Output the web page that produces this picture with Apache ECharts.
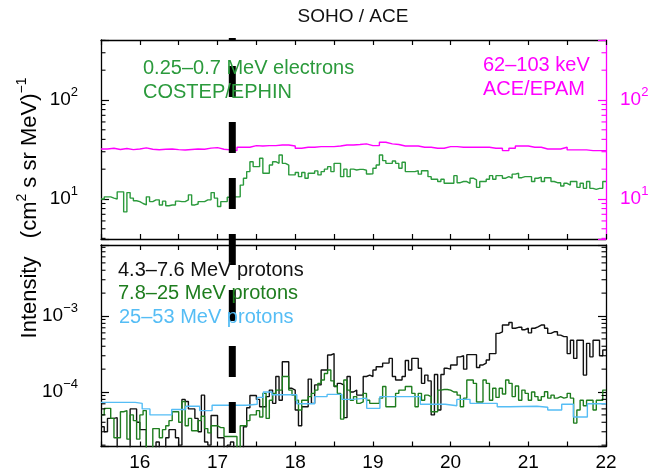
<!DOCTYPE html>
<html>
<head>
<meta charset="utf-8">
<script src="https://cdn.jsdelivr.net/npm/echarts@6/dist/echarts.min.js"></script>
<style>
  html, body { margin: 0; padding: 0; background: #fff; }
  #chart { width: 648px; height: 472px; }
</style>
</head>
<body>
<div id="chart"></div>
<script>
// Time axis (day of month)
const dayMin = 15.5;
const dayMax = 22;
const hourStep = 1 / 24;
const twoHourStep = 1 / 12;
const eventDay = 17.19;

// 0.25-0.7 MeV electrons, COSTEP/EPHIN, hourly, (cm^2 s sr MeV)^-1
const elecFlux = [
  10.0, 10.5, 10.5, 10.2, 10.0, 11.8, 11.8, 7.4, 11.6, 10.2,
  9.6, 9.4, 9.0, 8.7, 10.5, 9.4, 9.8, 9.8, 8.7, 9.5,
  8.55, 8.7, 8.7, 9.5, 9.4, 9.4, 9.8, 11.0, 8.7, 8.9,
  9.4, 9.4, 9.8, 9.8, 11.6, 10.2, 8.4, 9.4, 9.4, 10.4,
  10.0, 10.5, 10.5, 13.8, 16.2, 18.9, 23.8, 21.2, 21.2, 25.8,
  18.2, 18.2, 22.0, 23.8, 22.9, 27.8, 22.9, 22.0, 17.5, 17.5,
  18.5, 16.8, 18.5, 16.2, 18.2, 18.2, 19.2, 17.5, 18.9, 20.0,
  21.2, 18.9, 22.9, 22.9, 16.8, 20.0, 16.8, 20.0, 19.6, 19.9,
  19.9, 19.5, 17.9, 18.0, 20.4, 22.0, 27.8, 24.4, 22.9, 22.9,
  24.2, 22.9, 20.4, 23.5, 18.9, 18.9, 18.9, 19.3, 17.8, 19.3,
  19.3, 16.8, 15.8, 15.8, 15.0, 15.8, 14.4, 14.4, 14.4, 17.2,
  14.6, 15.0, 15.0, 14.4, 16.2, 15.6, 13.1, 15.0, 15.0, 15.8,
  17.2, 15.8, 17.2, 17.2, 16.2, 16.8, 16.2, 17.8, 18.2, 16.4,
  16.8, 16.8, 16.8, 15.0, 16.2, 16.6, 15.0, 16.4, 16.4, 15.0,
  14.6, 14.6, 13.5, 14.4, 13.8, 15.0, 15.0, 13.1, 14.4, 12.8,
  15.0, 12.8, 12.5, 12.8, 12.8, 15.0
];

// 62-103 keV, ACE/EPAM, 2-hour averages
const epamFlux = [
  32.0, 32.5, 31.6, 32.3, 31.5, 32.0, 32.8, 31.8, 31.4, 31.8,
  32.0, 31.5, 31.2, 31.6, 32.0, 31.8, 32.6, 33.0, 31.8, 31.3,
  30.8, 33.3, 33.3, 34.6, 34.3, 34.6, 34.6, 35.1, 35.1, 34.3,
  32.5, 33.3, 33.3, 33.8, 33.8, 33.8, 34.3, 35.1, 35.1,
  35.5, 36.0, 34.6, 34.6, 37.4, 36.0, 35.5, 34.3, 34.3, 34.3,
  33.3, 33.3, 32.5, 32.5, 33.8, 33.8, 33.3, 33.3, 33.3, 33.3,
  33.3, 32.5, 32.5, 30.8, 32.5, 34.3, 34.3, 33.3, 33.3, 32.0,
  32.0, 32.0, 33.3, 31.3, 31.3, 31.3, 30.8, 30.8, 30.8
];

// 4.3-7.6 MeV protons, hourly
const protonLowFlux = [
  3.5e-5, 3.0e-5, 4.5e-5, 4.5e-5, 4.6e-5, 1.5e-5, 1.4e-5, 1.6e-5, 1.8e-5, 6.0e-5,
  6.0e-5, 4.0e-5, 3.2e-5, 3.2e-5, 1.6e-5, 1.5e-5, 1.8e-5, 2.2e-5, 1.5e-5, 1.6e-5,
  2.5e-5, 3.2e-5, 3.2e-5, 2.5e-5, 2.0e-5, 8.0e-5, 7.5e-5, 6.0e-5, 6.0e-5, 4.5e-5,
  3.0e-5, 9.1e-5, 2.2e-5, 2.0e-5, 4.9e-5, 4.9e-5, 2.5e-5, 2.5e-5, 1.8e-5, 2.0e-5,
  2.2e-5, 1.6e-5, 1.5e-5, 1.8e-5, 3.5e-5, 6.2e-5, 9.0e-5, 9.0e-5, 8.0e-5, 6.4e-5,
  6.4e-5, 8.7e-5, 1.06e-4, 7.1e-5, 1.6e-4, 7.8e-5, 2.5e-4, 2.5e-4, 1.12e-4, 1.06e-4,
  5.8e-5, 3.6e-5, 6.4e-5, 6.4e-5, 1.48e-4, 7.1e-5, 1.24e-4, 1.24e-4, 1.95e-4, 1.95e-4,
  3.07e-4, 3.2e-4, 1.18e-4, 1.3e-4, 1.24e-4, 4.6e-5, 1.6e-4, 1.0e-4, 1.06e-4, 9.1e-5,
  9.1e-5, 1.6e-4, 1.67e-4, 1.6e-4, 1.95e-4, 2.15e-4, 2.15e-4, 2.4e-4, 2.4e-4, 2.77e-4,
  1.6e-4, 1.44e-4, 1.44e-4, 1.6e-4, 2.6e-4, 1.95e-4, 2.77e-4, 2.77e-4, 2.05e-4, 1.3e-4,
  1.67e-4, 1.4e-4, 5.0e-5, 1.7e-4, 5.8e-5, 1.7e-4, 2.05e-4, 2.0e-4, 2.27e-4, 2.27e-4,
  2.9e-4, 3.0e-4, 2.0e-4, 3.1e-4, 3.1e-4, 3.1e-4, 2.1e-4, 2.27e-4, 2.4e-4, 2.64e-4,
  3.2e-4, 3.2e-4, 5.9e-4, 6.2e-4, 7.6e-4, 7.6e-4, 8.2e-4, 6.9e-4, 7.1e-4, 7.1e-4,
  6.6e-4, 6.9e-4, 6.0e-4, 6.9e-4, 7.2e-4, 7.6e-4, 7.6e-4, 6.9e-4, 5.9e-4, 6.2e-4,
  6.2e-4, 5.6e-4, 5.35e-4, 5.35e-4, 3.2e-4, 4.8e-4, 2.77e-4, 4.8e-4, 4.8e-4, 1.67e-4,
  4.37e-4, 2.9e-4, 4.8e-4, 4.8e-4, 3.0e-4, 3.57e-4
];

// 7.8-25 MeV protons, hourly
const protonMidFlux = [
  5.0e-5, 6.1e-5, 6.1e-5, 4.5e-5, 2.5e-5, 2.5e-5, 5.5e-5, 5.7e-5, 2.4e-5, 5.0e-5,
  4.2e-5, 2.4e-5, 5.0e-5, 5.7e-5, 1.5e-5, 1.6e-5, 3.3e-5, 3.3e-5, 2.5e-5, 3.2e-5,
  3.6e-5, 4.2e-5, 5.5e-5, 5.5e-5, 4.0e-5, 7.5e-5, 3.6e-5, 4.5e-5, 3.1e-5, 3.1e-5,
  4.2e-5, 4.8e-5, 3.3e-5, 2.9e-5, 3.6e-5, 3.6e-5, 3.4e-5, 3.4e-5, 2.6e-5, 2.6e-5,
  2.6e-5, 2.6e-5, 1.8e-5, 3.6e-5, 3.6e-5, 4.2e-5, 5.0e-5, 5.0e-5, 5.7e-5, 4.7e-5,
  9.6e-5, 4.5e-5, 7.8e-5, 9.6e-5, 1.06e-4, 1.06e-4, 1.6e-4, 1.6e-4, 1.06e-4, 9.1e-5,
  7.8e-5, 5.8e-5, 7.8e-5, 7.8e-5, 8.7e-5, 9.6e-5, 1.06e-4, 1.3e-4, 1.44e-4, 1.75e-4,
  1.95e-4, 1.4e-4, 1.2e-4, 9.6e-5, 4.4e-5, 1.44e-4, 1.06e-4, 7.8e-5, 8.7e-5, 7.1e-5,
  7.4e-5, 9.6e-5, 7.8e-5, 7.1e-5, 7.1e-5, 7.1e-5, 8.3e-5, 1.18e-4, 6.4e-5, 6.4e-5,
  6.4e-5, 9.6e-5, 1.06e-4, 1.06e-4, 1.18e-4, 1.18e-4, 9.6e-5, 6.4e-5, 9.6e-5, 7.8e-5,
  9.1e-5, 8.7e-5, 5.5e-5, 5.5e-5, 1.06e-4, 1.08e-4, 1.08e-4, 1.06e-4, 1.0e-4, 1.0e-4,
  9.1e-5, 6.4e-5, 8.3e-5, 1.44e-4, 1.44e-4, 1.3e-4, 7.4e-5, 7.4e-5, 1.44e-4, 1.3e-4,
  7.8e-5, 1.12e-4, 8.5e-5, 1.12e-4, 9.4e-5, 1.44e-4, 1.3e-4, 8.7e-5, 1.2e-4, 7.8e-5,
  1.06e-4, 9.6e-5, 7.8e-5, 1.0e-4, 8.7e-5, 7.8e-5, 8.7e-5, 1.01e-4, 8.3e-5, 9.1e-5,
  8.3e-5, 8.7e-5, 8.3e-5, 8.5e-5, 9.6e-5, 8.3e-5, 3.9e-5, 5.8e-5, 7.8e-5, 6.6e-5,
  7.8e-5, 7.8e-5, 5.8e-5, 7.8e-5, 7.8e-5, 1.06e-4
];

// 25-53 MeV protons, coarse averaging intervals (start day, flux)
const protonHighDays = [
  15.5, 15.94, 16.03, 16.13, 16.41, 16.59, 16.77, 16.93, 17.38, 17.51,
  17.59, 17.70, 18.02, 18.25, 18.41, 18.60, 18.74, 18.92, 19.09, 19.61,
  19.93, 20.08, 20.25, 20.60, 20.76, 21.11, 21.25, 21.43, 21.58, 21.76
];
const protonHighFlux = [
  7.3e-5, 7.1e-5, 6.0e-5, 5.0e-5, 5.9e-5, 6.5e-5, 5.7e-5, 6.7e-5, 6.9e-5, 8.5e-5,
  1.0e-4, 9.2e-5, 7.0e-5, 8.7e-5, 9.3e-5, 8.0e-5, 8.3e-5, 6.1e-5, 8.7e-5, 6.9e-5,
  6.6e-5, 8.0e-5, 7.1e-5, 6.4e-5, 6.5e-5, 6.3e-5, 5.8e-5, 6.9e-5, 4.7e-5, 7.0e-5
];

// Axis ranges and log minor ticks
const topRange = [3.94, 403.6];
const bottomRange = [1.92e-5, 8.59e-3];
const topMinorTicks = [4, 5, 6, 7, 8, 9, 20, 30, 40, 50, 60, 70, 80, 90, 200, 300, 400];
const bottomMinorTicks = [
  2e-5, 3e-5, 4e-5, 5e-5, 6e-5, 7e-5, 8e-5, 9e-5,
  2e-4, 3e-4, 4e-4, 5e-4, 6e-4, 7e-4, 8e-4, 9e-4,
  2e-3, 3e-3, 4e-3, 5e-3, 6e-3, 7e-3, 8e-3
];

const FONT = 'Liberation Sans, Arial, Helvetica, sans-serif';
const COL_ELEC = '#2b9a3c';
const COL_EPAM = '#ff00ff';
const COL_P_LOW = '#111111';
const COL_P_MID = '#1e7d1e';
const COL_P_HIGH = '#55bdf5';

function regularSteps(values, start, step) {
  const pts = values.map((v, i) => [start + i * step, v]);
  pts.push([dayMax, values[values.length - 1]]);
  return pts;
}
function irregularSteps(days, values) {
  const pts = days.map((d, i) => [d, values[i]]);
  pts.push([dayMax, values[values.length - 1]]);
  return pts;
}

function powerLabel(color) {
  return {
    formatter: function (v) {
      const e = Math.log10(v);
      const r = Math.round(e);
      if (Math.abs(e - r) > 1e-6) return '';
      const exp = r < 0 ? '\u2212' + (-r) : String(r);
      return '{b|10}{s|' + exp + '}';
    },
    rich: {
      b: { fontFamily: FONT, fontSize: 19, lineHeight: 28, color: color },
      s: { fontFamily: FONT, fontSize: 13, lineHeight: 28, color: color, verticalAlign: 'top' }
    }
  };
}

function dayAxis(gridIndex, position, withLabels) {
  return {
    type: 'value', gridIndex: gridIndex, position: position,
    min: dayMin, max: dayMax, interval: 0.5,
    axisLine: { show: true, onZero: false, lineStyle: { color: '#000', width: 1.3 } },
    axisTick: { show: true, inside: true, length: 5, lineStyle: { color: '#000', width: 1.2 } },
    axisLabel: {
      show: withLabels, margin: 7, color: '#000', fontFamily: FONT, fontSize: 19,
      formatter: function (v) { return Math.abs(v - Math.round(v)) < 1e-9 ? String(Math.round(v)) : ''; }
    },
    splitLine: { show: false }
  };
}

function logAxis(gridIndex, position, range, color, withLabels, margin) {
  const lab = powerLabel(color);
  return {
    type: 'log', logBase: 10, gridIndex: gridIndex, position: position,
    min: range[0], max: range[1],
    axisLine: { show: true, onZero: false, lineStyle: { color: color, width: 1.3 } },
    axisTick: { show: true, inside: true, length: 8, lineStyle: { color: color, width: 1.2 } },
    axisLabel: Object.assign({ show: withLabels, margin: margin, color: color }, lab),
    splitLine: { show: false },
    minorTick: { show: false }
  };
}

function minorTickSeries(xIdx, yIdx, ticks, color, sides) {
  return {
    type: 'custom', xAxisIndex: xIdx, yAxisIndex: yIdx, silent: true, clip: false, z: 5,
    data: ticks.map(v => [dayMin, v]),
    renderItem: function (params, api) {
      const v = api.value(1);
      const l = api.coord([dayMin, v]);
      const r = api.coord([dayMax, v]);
      const kids = [];
      if (sides.indexOf('left') >= 0) {
        kids.push({ type: 'line', shape: { x1: l[0], y1: l[1], x2: l[0] + 4.5, y2: l[1] },
          style: { stroke: color, lineWidth: 1.1 } });
      }
      if (sides.indexOf('right') >= 0) {
        kids.push({ type: 'line', shape: { x1: r[0] - 4.5, y1: r[1], x2: r[0], y2: r[1] },
          style: { stroke: color, lineWidth: 1.1 } });
      }
      return { type: 'group', children: kids };
    }
  };
}

function stepLine(name, xIdx, yIdx, data, color, z) {
  return {
    name: name, type: 'line', xAxisIndex: xIdx, yAxisIndex: yIdx,
    step: 'end', data: data, showSymbol: false, symbol: 'none', clip: true,
    lineStyle: { color: color, width: 1.4 }, z: z, silent: true
  };
}

function label(text, x, y, color, size) {
  return {
    type: 'text', x: x, y: y, silent: true, z: 20,
    style: { text: text, fill: color, font: (size || 20) + 'px ' + FONT,
      align: 'left', verticalAlign: 'middle' }
  };
}

const chart = echarts.init(document.getElementById('chart'), null, { renderer: 'canvas' });

const option = {
  animation: false,
  backgroundColor: '#fff',
  grid: [
    { left: 101, right: 42, top: 40, height: 199, outerBoundsMode: 'none', containLabel: false },
    { left: 101, right: 42, top: 245, height: 201.5, outerBoundsMode: 'none', containLabel: false },
    { left: 101, right: 42, top: 38, height: 408.5, outerBoundsMode: 'none', containLabel: false }
  ],
  xAxis: [
    dayAxis(0, 'bottom', false),
    dayAxis(0, 'top', false),
    dayAxis(1, 'bottom', true),
    dayAxis(1, 'top', false),
    { type: 'value', gridIndex: 2, min: dayMin, max: dayMax, show: false }
  ],
  yAxis: [
    logAxis(0, 'left', topRange, '#000', true, 23),
    logAxis(0, 'right', topRange, COL_EPAM, true, 14),
    logAxis(1, 'left', bottomRange, '#000', true, 23),
    logAxis(1, 'right', bottomRange, '#000', false, 14),
    { type: 'value', gridIndex: 2, min: 0, max: 1, show: false }
  ],
  series: [
    stepLine('62\u2013103 keV ACE/EPAM', 0, 1, regularSteps(epamFlux, dayMin, twoHourStep), COL_EPAM, 3),
    stepLine('0.25\u20130.7 MeV electrons', 0, 0, regularSteps(elecFlux, dayMin, hourStep), COL_ELEC, 4),
    stepLine('4.3\u20137.6 MeV protons', 2, 2, regularSteps(protonLowFlux, dayMin, hourStep), COL_P_LOW, 3),
    stepLine('7.8\u201325 MeV protons', 2, 2, regularSteps(protonMidFlux, dayMin, hourStep), COL_P_MID, 4),
    stepLine('25\u201353 MeV protons', 2, 2, irregularSteps(protonHighDays, protonHighFlux), COL_P_HIGH, 5),
    minorTickSeries(0, 0, topMinorTicks, '#000', ['left']),
    minorTickSeries(0, 1, topMinorTicks, COL_EPAM, ['right']),
    minorTickSeries(2, 2, bottomMinorTicks, '#000', ['left', 'right']),
    {
      name: 'event', type: 'line', xAxisIndex: 4, yAxisIndex: 4,
      data: [[eventDay, 0], [eventDay, 1]], showSymbol: false, symbol: 'none', silent: true, z: 10,
      lineStyle: { color: '#000', width: 7, type: [31, 25], dashOffset: 42.5, cap: 'butt' }
    }
  ],
  graphic: [
    { type: 'text', x: 353, y: 17, silent: true,
      style: { text: 'SOHO / ACE', fill: '#111', font: '19px ' + FONT, align: 'center', verticalAlign: 'middle' } },
    label('0.25\u20130.7 MeV electrons', 143, 68.5, COL_ELEC),
    label('COSTEP/EPHIN', 143, 92, COL_ELEC),
    label('62\u2013103 keV', 483, 65.5, COL_EPAM),
    label('ACE/EPAM', 483, 89, COL_EPAM),
    label('4.3\u20137.6 MeV protons', 118, 270, COL_P_LOW),
    label('7.8\u201325 MeV protons', 118, 293.5, COL_P_MID),
    label('25\u201353 MeV protons', 119, 317, COL_P_HIGH),
    { type: 'text', x: 30, y: 208, rotation: Math.PI / 2, silent: true,
      style: {
        text: 'Intensity   (cm{s|2} s sr MeV){s|\u22121}',
        fill: '#000', font: '22px ' + FONT, align: 'center', verticalAlign: 'middle',
        rich: { s: { fontSize: 14, lineHeight: 30, fill: '#000', verticalAlign: 'top', fontFamily: FONT } }
      } }
  ]
};

chart.setOption(option);
</script>
</body>
</html>
